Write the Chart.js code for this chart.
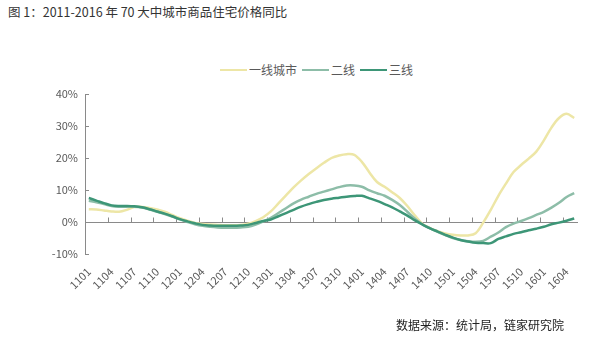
<!DOCTYPE html>
<html><head><meta charset="utf-8">
<script src="https://cdn.jsdelivr.net/npm/chart.js@4"></script>
<style>
html,body{margin:0;padding:0;background:#fff;}
#wrap{position:relative;width:601px;height:351px;overflow:hidden;font-family:'Noto Sans CJK SC','Noto Sans',sans-serif;}
#title{position:absolute;left:8px;top:3px;font-size:12.5px;line-height:18px;color:#333;white-space:nowrap;}
#source{position:absolute;left:396px;top:316px;font-size:12px;line-height:18px;color:#222;white-space:nowrap;}
#legend{position:absolute;left:220px;top:61px;display:flex;align-items:center;font-size:12px;line-height:18px;color:#595959;white-space:nowrap;}
#legend .item{display:flex;align-items:center;margin-right:5px;}
#legend .sw{width:27px;height:2px;margin-right:2px;}
canvas{position:absolute;left:0;top:0;}
</style></head>
<body>
<div id="wrap">
<div id="title">图 1：2011-2016 年 70 大中城市商品住宅价格同比</div>
<div id="legend"></div>
<canvas id="c" width="601" height="351"></canvas>
<div id="source">数据来源：统计局，链家研究院</div>
</div>
<script>
const months = ['1101','1102','1103','1104','1105','1106','1107','1108','1109','1110','1111','1112',
'1201','1202','1203','1204','1205','1206','1207','1208','1209','1210','1211','1212',
'1301','1302','1303','1304','1305','1306','1307','1308','1309','1310','1311','1312',
'1401','1402','1403','1404','1405','1406','1407','1408','1409','1410','1411','1412',
'1501','1502','1503','1504','1505','1506','1507','1508','1509','1510','1511','1512',
'1601','1602','1603','1604','1605'];

const seriesNames = ['一线城市','二线','三线'];
const seriesColors = ['#EDE6A6','#8DBDA8','#3D9677'];

const tier1 = [4.0,3.9,3.6,3.3,3.2,3.8,4.7,4.7,4.4,3.9,3.2,2.2,
1.2,0.4,-0.3,-0.6,-0.8,-0.9,-1.0,-1.0,-0.9,-0.5,0.3,1.5,
3.3,5.8,8.3,10.8,13.0,15.0,16.8,18.5,20.0,20.8,21.2,21.0,
18.8,15.5,12.5,11.0,9.3,7.5,5.0,2.0,-0.6,-1.9,-2.9,-3.6,
-4.0,-4.2,-4.2,-3.5,-0.2,3.8,8.2,12.0,15.6,17.8,19.8,22.0,
25.5,29.5,32.5,33.8,32.5];

const tier2 = [6.6,6.2,5.6,5.0,4.8,4.8,4.8,4.5,3.9,3.2,2.5,1.7,
0.8,0.0,-0.7,-1.2,-1.5,-1.7,-1.8,-1.8,-1.7,-1.5,-0.8,0.2,
1.3,2.8,4.3,5.8,7.0,7.9,8.8,9.5,10.2,10.9,11.4,11.4,
11.0,9.9,9.0,8.2,6.9,5.3,3.2,1.0,-0.8,-2.0,-3.1,-4.1,
-5.0,-5.6,-6.0,-6.2,-5.9,-4.6,-3.3,-1.6,-0.5,0.3,1.2,2.2,
3.2,4.5,6.0,7.8,9.0];

const tier3 = [7.5,6.7,5.9,5.2,5.0,5.0,4.9,4.6,4.0,3.3,2.6,1.8,
0.9,0.2,-0.4,-0.9,-1.1,-1.2,-1.2,-1.2,-1.1,-0.9,-0.3,0.3,
0.8,1.8,2.8,3.8,4.8,5.6,6.3,6.9,7.3,7.6,7.9,8.1,
8.2,7.4,6.6,5.6,4.6,3.3,2.0,0.5,-0.8,-2.0,-3.0,-4.0,
-4.9,-5.6,-6.1,-6.5,-6.6,-6.6,-5.3,-4.5,-3.7,-3.2,-2.6,-2.1,
-1.5,-0.7,-0.2,0.4,1.1];

const yTicks = [-10,0,10,20,30,40];
const labelStep = 3;
const AXIS = '#8a8a8a';

// HTML legend
const lg = document.getElementById('legend');
seriesNames.forEach((n,i)=>{
  const it=document.createElement('div'); it.className='item';
  const sw=document.createElement('div'); sw.className='sw'; sw.style.background=seriesColors[i];
  const tx=document.createElement('span'); tx.textContent=n;
  it.appendChild(sw); it.appendChild(tx); lg.appendChild(it);
});

const axisMarks = {
  id:'axisMarks',
  beforeDatasetsDraw(chart){
    const {ctx, chartArea, scales:{x,y}} = chart;
    ctx.save();
    ctx.strokeStyle = AXIS; ctx.lineWidth = 1;
    const y0 = Math.round(y.getPixelForValue(0)) + 0.5;
    ctx.beginPath();
    ctx.moveTo(chartArea.left, y0); ctx.lineTo(chartArea.right, y0);
    for (let i = 0; i < months.length; i += labelStep) {
      const px = Math.round(x.getPixelForValue(i - 0.5)) + 0.5;
      ctx.moveTo(px, y0); ctx.lineTo(px, y0 - 5);
    }
    yTicks.forEach(v=>{
      const py = Math.round(y.getPixelForValue(v)) + 0.5;
      ctx.moveTo(chartArea.left, py); ctx.lineTo(chartArea.left + 4, py);
    });
    ctx.stroke();
    ctx.restore();
  }
};

Chart.defaults.font.family = "'Noto Sans CJK SC','Noto Sans',sans-serif";
Chart.defaults.color = '#595959';

const data = [tier1, tier2, tier3];
new Chart(document.getElementById('c'), {
  type:'line',
  data:{
    labels: months,
    datasets: data.map((d,i)=>({
      label: seriesNames[i], data: d,
      borderColor: seriesColors[i], backgroundColor: seriesColors[i],
      borderWidth: 2.5, pointRadius: 0, tension: 0.35, fill:false,
      order: 3 - i
    }))
  },
  options:{
    responsive:false, animation:false, devicePixelRatio:1,
    layout:{padding:{left:30,right:23,top:94,bottom:0}},
    plugins:{legend:{display:false}, tooltip:{enabled:false}},
    scales:{
      x:{
        offset:true,
        grid:{display:false}, border:{display:false},
        ticks:{autoSkip:false, minRotation:45, maxRotation:45, padding:3, font:{size:11},
          callback:(v,i)=> i % labelStep === 0 ? months[i] : ''},
        afterFit:(s)=>{ s.height = 97; }
      },
      y:{
        min:-10, max:40,
        afterBuildTicks:(s)=>{ s.ticks = yTicks.map(v=>({value:v})); },
        grid:{display:false, drawTicks:false},
        border:{display:true, color:AXIS, width:1},
        ticks:{padding:7, font:{size:11}, callback:(v)=> v + '%'},
        afterFit:(s)=>{ s.width = 55; }
      }
    }
  },
  plugins:[axisMarks]
});
</script>
</body></html>
